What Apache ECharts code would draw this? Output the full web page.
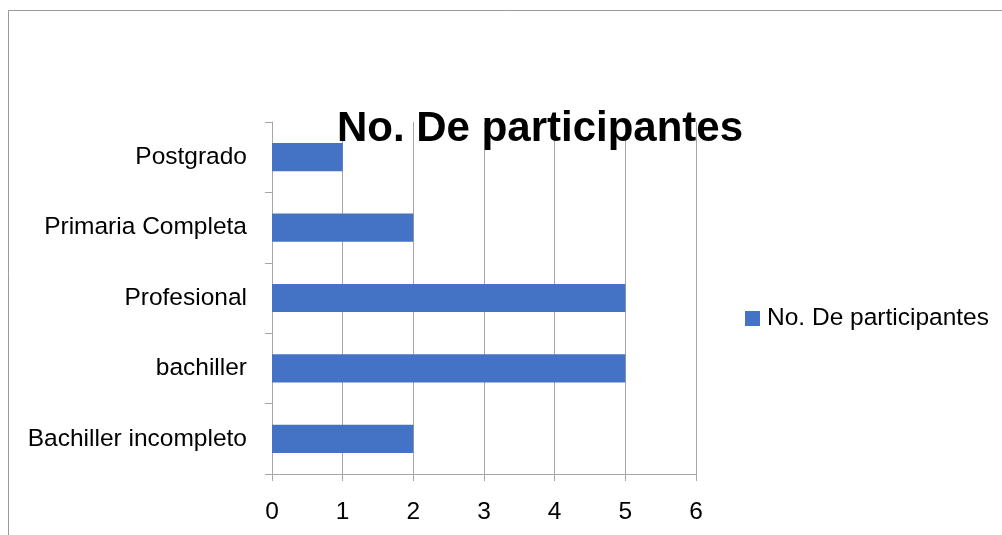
<!DOCTYPE html>
<html>
<head>
<meta charset="utf-8">
<script src="https://cdn.jsdelivr.net/npm/echarts@6/dist/echarts.min.js"></script>
<style>
  html, body { margin: 0; padding: 0; background: #fff; }
  #chart { width: 1002px; height: 535px; }
</style>
</head>
<body>
<div id="chart"></div>
<script>
// Education level of participants
const categories = ['Bachiller incompleto', 'bachiller', 'Profesional', 'Primaria Completa', 'Postgrado'];
const participants = [2, 5, 5, 2, 1];
const seriesName = 'No. De participantes';
const chartTitle = 'No. De participantes';

const FONT = 'Liberation Sans';
const AXIS_GRAY = '#a6a6a6';
const LABEL_SIZE = 24.5;

const chart = echarts.init(document.getElementById('chart'), null, { renderer: 'canvas' });

chart.setOption({
  animation: false,
  backgroundColor: '#ffffff',
  textStyle: { fontFamily: FONT },
  graphic: [{
    type: 'rect',
    shape: { x: 8.5, y: 10.5, width: 1100, height: 600 },
    style: { fill: 'none', stroke: '#999999', lineWidth: 1 },
    silent: true,
    z: -1
  }],
  title: {
    text: chartTitle,
    left: 540,
    textAlign: 'center',
    top: 108,
    padding: 0,
    textStyle: { fontFamily: FONT, fontWeight: 'bold', fontSize: 42, color: '#000' }
  },
  legend: {
    data: [seriesName],
    left: 745,
    top: 306,
    padding: 0,
    itemWidth: 15,
    itemHeight: 15,
    itemGap: 6,
    icon: 'rect',
    textStyle: { fontFamily: FONT, fontSize: LABEL_SIZE, color: '#000', padding: [0, 0, 0, 2] }
  },
  grid: { left: 272, right: 306, top: 122, bottom: 61, containLabel: false },
  xAxis: {
    type: 'value',
    min: 0,
    max: 6,
    interval: 1,
    axisLine: { show: true, lineStyle: { color: AXIS_GRAY } },
    axisTick: { show: true, length: 7, lineStyle: { color: AXIS_GRAY } },
    splitLine: { show: true, lineStyle: { color: AXIS_GRAY } },
    axisLabel: { fontFamily: FONT, fontSize: LABEL_SIZE, color: '#000', margin: 26 }
  },
  yAxis: {
    type: 'category',
    data: categories,
    axisLine: { show: true, lineStyle: { color: AXIS_GRAY } },
    axisTick: { show: true, length: 7, lineStyle: { color: AXIS_GRAY } },
    axisLabel: { fontFamily: FONT, fontSize: LABEL_SIZE, color: '#000', margin: 25 }
  },
  series: [{
    name: seriesName,
    type: 'bar',
    data: participants,
    barCategoryGap: '60%',
    itemStyle: { color: '#4472C4' }
  }]
});
</script>
</body>
</html>
